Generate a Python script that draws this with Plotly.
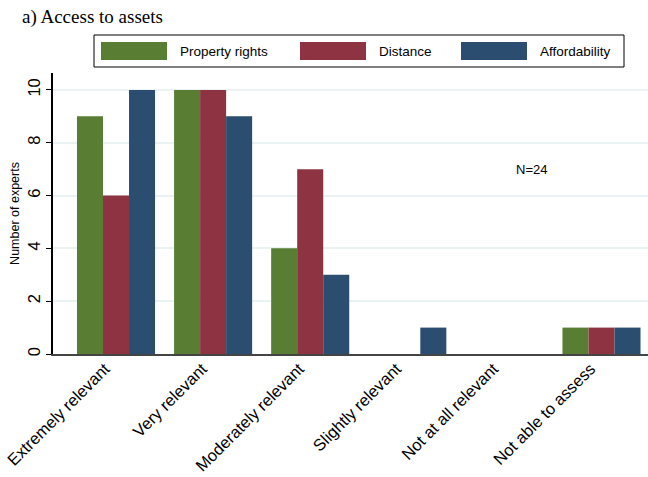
import plotly.graph_objects as go

categories = ["Extremely relevant", "Very relevant", "Moderately relevant",
              "Slightly relevant", "Not at all relevant", "Not able to assess"]
property_rights = [9, 10, 4, 0, 0, 1]
distance = [6, 10, 7, 0, 0, 1]
affordability = [10, 9, 3, 1, 0, 1]
series_names = ["Property rights", "Distance", "Affordability"]
series_colors = ["#5a7d34", "#8d3341", "#2b4d6f"]
y_ticks = [0, 2, 4, 6, 8, 10]
sample_note = "N=24"

x = list(range(len(categories)))
fig = go.Figure()
for name, vals, col in zip(series_names, [property_rights, distance, affordability], series_colors):
    fig.add_trace(go.Bar(x=x, y=vals, name=name, marker=dict(color=col, line=dict(width=0)),
                         showlegend=False))

# Boxed legend with wide swatches above the plot
legend_items = [(101, 167, 178), (300, 366, 377), (461, 527, 538)]
W, H = 648, 477
shapes = [dict(type="rect", xref="paper", yref="paper",
               x0=(94 - 53) / (W - 53), x1=(624 - 53) / (W - 53),
               y0=(354 - 67) / (354 - 73), y1=(354 - 35) / (354 - 73),
               line=dict(color="black", width=1), fillcolor="white")]
annotations = []
for (sx0, sx1, tx), name, col in zip(legend_items, series_names, series_colors):
    shapes.append(dict(type="rect", xref="paper", yref="paper",
                       x0=(sx0 - 53) / (W - 53), x1=(sx1 - 53) / (W - 53),
                       y0=(354 - 60) / (354 - 73), y1=(354 - 42) / (354 - 73),
                       line=dict(width=0), fillcolor=col))
    annotations.append(dict(xref="paper", yref="paper", x=(tx - 53) / (W - 53),
                            y=(354 - 51) / (354 - 73), text=name, showarrow=False,
                            xanchor="left", yanchor="middle",
                            font=dict(family="Liberation Sans, Arial", size=13.5, color="black")))

annotations.append(dict(x=4.28, y=7, text=sample_note, showarrow=False,
                        font=dict(family="Liberation Sans, Arial", size=13, color="black")))

fig.update_layout(
    width=W, height=H,
    margin=dict(l=53, r=0, t=73, b=123),
    paper_bgcolor="white", plot_bgcolor="white",
    barmode="group", bargap=0.196, bargroupgap=0,
    title=dict(text="a) Access to assets", x=22 / W, xanchor="left", y=1 - 16 / H, yanchor="middle",
               font=dict(family="Liberation Serif, Times New Roman", size=19, color="black")),
    shapes=shapes, annotations=annotations,
    font=dict(family="Liberation Sans, Arial", color="black"),
)
fig.update_xaxes(range=[-0.649, 5.479], tickmode="array", tickvals=x, ticktext=categories,
                 tickangle=-45, tickfont=dict(size=16.5), showgrid=False, ticks="",
                 ticklabelshift=-11, ticklabelstandoff=-3, ticklabeloverflow="allow",
                 showline=True, linecolor="#444444", linewidth=1.5, zeroline=False)
fig.update_yaxes(range=[0, 10.64], tickvals=y_ticks, tickangle=-90, tickfont=dict(size=16.5),
                 ticks="outside", ticklen=5, tickcolor="black", ticklabelstandoff=0,
                 showgrid=True, gridcolor="#eaf2f3", gridwidth=1.5,
                 showline=True, linecolor="black", linewidth=1.5, zeroline=False,
                 title=dict(text="Number of experts", font=dict(size=12.5), standoff=2))
fig.write_html("out.html")
